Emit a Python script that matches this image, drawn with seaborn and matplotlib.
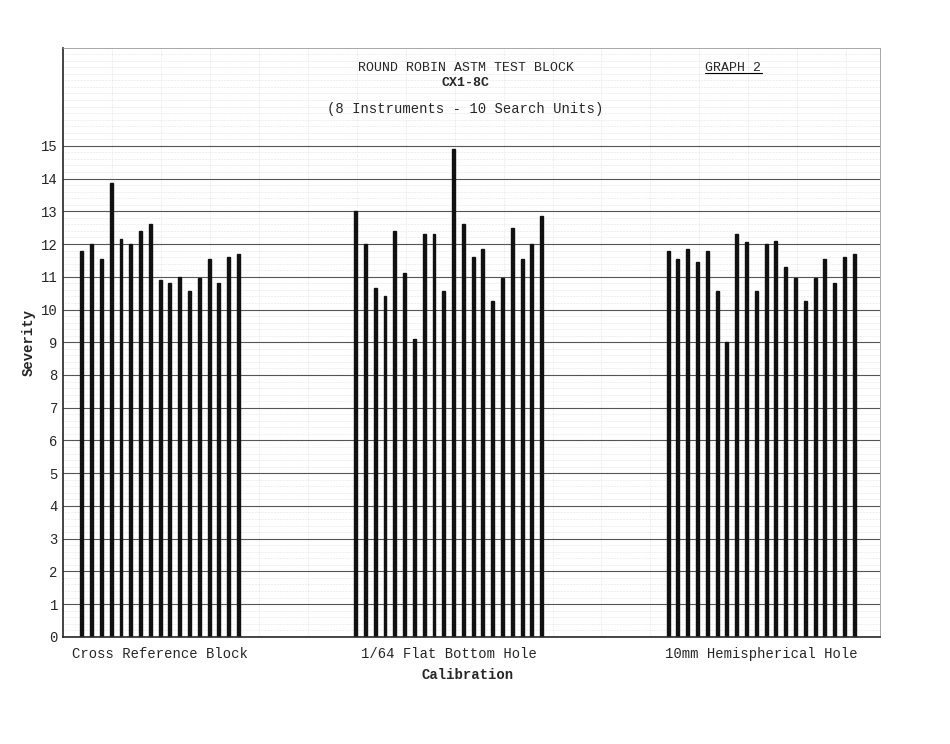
import matplotlib
matplotlib.use("Agg")
import matplotlib.pyplot as plt
import seaborn as sns
import numpy as np
import pandas as pd

groups = ["Cross Reference Block", "1/64 Flat Bottom Hole", "10mm Hemispherical Hole"]
cross_ref = [11.8, 12.0, 11.55, 13.85, 12.15, 12.0, 12.4, 12.6, 10.9, 10.8, 11.0,
             10.55, 10.95, 11.55, 10.8, 11.6, 11.7]
flat_bottom = [13.0, 12.0, 10.65, 10.4, 12.4, 11.1, 9.1, 12.3, 12.3, 10.55, 14.9,
               12.6, 11.6, 11.85, 10.25, 10.95, 12.5, 11.55, 12.0, 12.85]
hemispherical = [11.8, 11.55, 11.85, 11.45, 11.8, 10.55, 9.0, 12.3, 12.05, 10.55,
                 12.0, 12.1, 11.3, 10.95, 10.25, 10.95, 11.55, 10.8, 11.6, 11.7]
yticks = list(range(0, 16))

# slot where each group starts (1 slot = one bar spacing)
starts = [1.95, 29.9, 61.8]
rows = []
for g, vals, s in zip(groups, [cross_ref, flat_bottom, hemispherical], starts):
    for i, v in enumerate(vals):
        rows.append({"group": g, "pos": s + i, "severity": v})
df = pd.DataFrame(rows)

sns.set_style("white")
plt.rcParams["font.family"] = ["Liberation Mono", "DejaVu Sans Mono"]

fig = plt.figure(figsize=(9.5, 7.44), dpi=100)
ax = fig.add_axes([0.066, 0.144, 0.86, 0.792])
sns.barplot(data=df, x="pos", y="severity", native_scale=True, width=0.3,
            color="#111111", edgecolor="#111111", ax=ax)

ax.set_xlim(0, 83.4)
ax.set_ylim(0, 18)
ax.set_yticks(yticks)
ax.tick_params(axis="y", labelsize=10, length=0)
ax.set_xticks([])
ax.set_xticks(np.arange(0, 83.4, 5), minor=True)
ax.set_yticks(np.arange(0, 18, 0.2), minor=True)
ax.grid(True, which="major", axis="y", color="#555555", lw=0.8)
ax.grid(True, which="minor", color="#cccccc", lw=0.4, ls=":")
ax.set_axisbelow(True)
for sp in ["top", "right"]:
    ax.spines[sp].set_color("#999999")
    ax.spines[sp].set_linewidth(0.6)
ax.spines["left"].set_linewidth(1.2)
ax.spines["bottom"].set_linewidth(1.2)
ax.set_ylabel("Severity", fontsize=10, fontweight="bold")
ax.set_xlabel("")

for g, s, n in zip(groups, starts, [17, 20, 20]):
    ax.text(s + (n - 1) / 2, -0.3, g, ha="center", va="top", fontsize=10)
fig.text(0.492, 0.088, "Calibration", ha="center", fontsize=10, fontweight="bold")

fig.text(0.49, 0.905, "ROUND ROBIN ASTM TEST BLOCK", ha="center", fontsize=9.5)
fig.text(0.49, 0.885, "CX1-8C", ha="center", fontsize=9.5, fontweight="bold")
fig.text(0.49, 0.848, "(8 Instruments - 10 Search Units)", ha="center", fontsize=10)
fig.text(0.772, 0.905, "GRAPH 2", ha="center", fontsize=9.5)
fig.lines.append(plt.Line2D([0.742, 0.802], [0.902, 0.902], transform=fig.transFigure,
                            color="black", lw=0.8))

fig.savefig("out.png", dpi=100)
